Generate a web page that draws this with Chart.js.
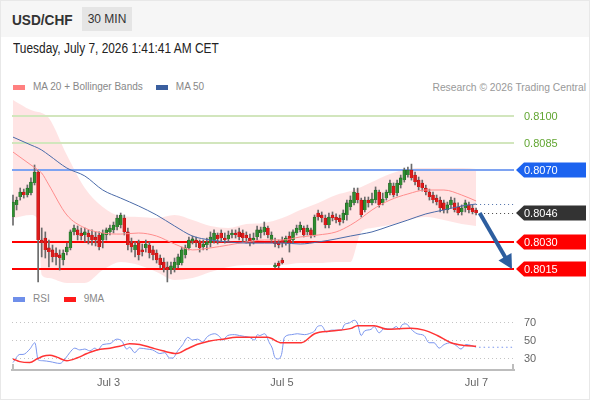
<!DOCTYPE html>
<html>
<head>
<meta charset="utf-8">
<script src="https://cdn.jsdelivr.net/npm/chart.js@4.4.1/dist/chart.umd.min.js"></script>
<style>
  body { margin: 0; font-family: "Liberation Sans", Arial, Helvetica, sans-serif; }
  #wrap { position: relative; width: 590px; height: 400px; background: #fff; overflow: hidden;
          box-sizing: border-box; border: 1px solid #e8e8e8; }
  .head { position: absolute; left: 0; top: 0; width: 590px; height: 36px; background: #f6f6f6; }
  .pair { position: absolute; left: 11px; top: 10px; font-size: 15px; font-weight: bold; color: #333;
          transform: scaleX(0.91); transform-origin: left center; }
  .tf { position: absolute; left: 81px; top: 6px; width: 50px; height: 24px; line-height: 24px;
        background: #e5e5e5; text-align: center; font-size: 12px; color: #333; }
  .date { position: absolute; left: 12px; top: 39px; font-size: 14px; color: #222;
          transform: scaleX(0.85); transform-origin: left center; white-space: nowrap; }
  .legend { position: absolute; left: 12px; font-size: 10px; color: #888; line-height: 12px; white-space: nowrap; }
  .legend span { display: inline-block; vertical-align: middle; }
  .sw { width: 12px; height: 5px; margin-right: 8px; }
  .credit { position: absolute; right: 3px; top: 81px; font-size: 10.3px; color: #999; line-height: 12px; }
  canvas { position: absolute; left: 0; }
</style>
</head>
<body>
<div id="wrap">
  <div class="head"><span class="pair">USD/CHF</span><span class="tf">30 MIN</span></div>
  <div class="date">Tuesday, July 7, 2026 1:41:41 AM CET</div>
  <div class="legend" style="top:80px"><span class="sw" style="background:#ff8080"></span><span style="margin-right:13px">MA 20 + Bollinger Bands</span><span class="sw" style="background:#3a5f9f"></span><span>MA 50</span></div>
  <div class="credit">Research © 2026 Trading Central</div>
  <canvas id="price" width="588" height="190" style="top:94px"></canvas>
  <div class="legend" style="top:292px"><span class="sw" style="background:#6f8fea"></span><span style="margin-right:14px">RSI</span><span class="sw" style="background:#ff1a1a"></span><span>9MA</span></div>
  <canvas id="rsi" width="588" height="104" style="top:287px"></canvas>
</div>
<script>
// 30 min candles, index 0 = first candle on the left
const open = [
  0.80439,0.80506,0.80550,0.80578,0.80561,0.80572,0.80628,0.80689,0.80311,0.80322,
  0.80267,0.80256,0.80239,0.80228,0.80200,0.80244,0.80267,0.80356,0.80367,0.80350,
  0.80339,0.80350,0.80339,0.80328,0.80339,0.80311,0.80339,0.80356,0.80367,0.80383,
  0.80394,0.80433,0.80356,0.80294,0.80256,0.80294,0.80256,0.80267,0.80283,0.80256,
  0.80239,0.80211,0.80189,0.80161,0.80144,0.80156,0.80172,0.80183,0.80228,0.80267,
  0.80306,0.80311,0.80294,0.80272,0.80283,0.80294,0.80311,0.80339,0.80350,0.80322,
  0.80317,0.80339,0.80350,0.80356,0.80350,0.80339,0.80322,0.80311,0.80328,0.80350,
  0.80356,0.80378,0.80311,0.80294,0.80294,0.80311,0.80300,0.80333,0.80311,0.80350,
  0.80367,0.80378,0.80356,0.80367,0.80339,0.80461,0.80450,0.80433,0.80394,0.80450,
  0.80439,0.80433,0.80422,0.80450,0.80494,0.80517,0.80572,0.80533,0.80478,0.80533,
  0.80517,0.80533,0.80578,0.80517,0.80544,0.80572,0.80611,0.80572,0.80617,0.80644,
  0.80672,0.80700,0.80672,0.80644,0.80628,0.80600,0.80578,0.80561,0.80544,0.80533,
  0.80517,0.80478,0.80506,0.80517,0.80494,0.80467,0.80489,0.80506,0.80489,0.80478
];
const close = [
  0.80522,0.80533,0.80578,0.80561,0.80600,0.80633,0.80689,0.80311,0.80294,0.80256,
  0.80244,0.80217,0.80217,0.80211,0.80239,0.80272,0.80356,0.80378,0.80339,0.80333,
  0.80356,0.80328,0.80311,0.80311,0.80272,0.80350,0.80367,0.80378,0.80394,0.80433,
  0.80450,0.80356,0.80283,0.80272,0.80283,0.80228,0.80244,0.80289,0.80239,0.80228,
  0.80200,0.80172,0.80156,0.80144,0.80167,0.80189,0.80217,0.80256,0.80267,0.80311,
  0.80317,0.80294,0.80267,0.80289,0.80300,0.80328,0.80350,0.80317,0.80322,0.80311,
  0.80339,0.80350,0.80339,0.80328,0.80322,0.80322,0.80300,0.80322,0.80367,0.80367,
  0.80383,0.80339,0.80339,0.80289,0.80283,0.80294,0.80322,0.80294,0.80356,0.80378,
  0.80394,0.80339,0.80378,0.80339,0.80439,0.80439,0.80433,0.80394,0.80439,0.80433,
  0.80422,0.80411,0.80461,0.80517,0.80533,0.80578,0.80533,0.80450,0.80533,0.80517,
  0.80539,0.80589,0.80506,0.80539,0.80578,0.80628,0.80561,0.80628,0.80656,0.80700,
  0.80700,0.80656,0.80633,0.80606,0.80600,0.80578,0.80550,0.80533,0.80522,0.80489,
  0.80478,0.80506,0.80533,0.80478,0.80461,0.80489,0.80517,0.80478,0.80467,0.80461
];
const high = [
  0.80561,0.80550,0.80600,0.80594,0.80617,0.80656,0.80728,0.80700,0.80378,0.80356,
  0.80311,0.80283,0.80267,0.80256,0.80256,0.80294,0.80367,0.80394,0.80389,0.80378,
  0.80378,0.80367,0.80367,0.80356,0.80356,0.80367,0.80378,0.80394,0.80411,0.80450,
  0.80461,0.80450,0.80378,0.80322,0.80300,0.80311,0.80289,0.80311,0.80300,0.80278,
  0.80256,0.80228,0.80211,0.80189,0.80189,0.80211,0.80233,0.80272,0.80283,0.80328,
  0.80333,0.80328,0.80311,0.80311,0.80322,0.80356,0.80367,0.80350,0.80367,0.80350,
  0.80361,0.80367,0.80367,0.80378,0.80367,0.80356,0.80344,0.80350,0.80389,0.80383,
  0.80411,0.80389,0.80356,0.80322,0.80311,0.80328,0.80333,0.80356,0.80367,0.80394,
  0.80411,0.80389,0.80394,0.80378,0.80450,0.80478,0.80467,0.80450,0.80461,0.80467,
  0.80456,0.80450,0.80478,0.80533,0.80556,0.80600,0.80600,0.80544,0.80550,0.80550,
  0.80572,0.80606,0.80589,0.80572,0.80589,0.80644,0.80628,0.80644,0.80672,0.80711,
  0.80717,0.80733,0.80689,0.80661,0.80644,0.80617,0.80594,0.80578,0.80561,0.80550,
  0.80533,0.80522,0.80550,0.80544,0.80517,0.80506,0.80533,0.80522,0.80506,0.80489
];
const low = [
  0.80394,0.80478,0.80533,0.80544,0.80550,0.80561,0.80617,0.80078,0.80217,0.80211,
  0.80161,0.80189,0.80172,0.80144,0.80172,0.80228,0.80256,0.80339,0.80311,0.80311,
  0.80300,0.80289,0.80283,0.80278,0.80256,0.80267,0.80311,0.80339,0.80350,0.80367,
  0.80378,0.80339,0.80256,0.80244,0.80217,0.80200,0.80222,0.80244,0.80211,0.80200,
  0.80183,0.80156,0.80133,0.80078,0.80122,0.80133,0.80156,0.80172,0.80211,0.80256,
  0.80289,0.80272,0.80244,0.80256,0.80256,0.80272,0.80294,0.80289,0.80300,0.80294,
  0.80300,0.80322,0.80322,0.80311,0.80300,0.80294,0.80278,0.80289,0.80311,0.80322,
  0.80339,0.80322,0.80300,0.80272,0.80267,0.80272,0.80283,0.80244,0.80294,0.80339,
  0.80356,0.80328,0.80339,0.80322,0.80328,0.80422,0.80411,0.80378,0.80378,0.80417,
  0.80406,0.80394,0.80406,0.80422,0.80478,0.80506,0.80517,0.80439,0.80467,0.80494,
  0.80506,0.80517,0.80494,0.80506,0.80533,0.80561,0.80550,0.80556,0.80600,0.80633,
  0.80661,0.80644,0.80617,0.80589,0.80583,0.80561,0.80533,0.80517,0.80506,0.80467,
  0.80461,0.80461,0.80489,0.80467,0.80450,0.80450,0.80467,0.80461,0.80456,0.80450
];

// the few weekend candles drawn under Jul 5
const wkIdx   = [73, 74, 75];
const wkOpen  = [0.80161, 0.80183, 0.80200];
const wkClose = [0.80172, 0.80167, 0.80183];
const wkHigh  = [0.80183, 0.80194, 0.80211];
const wkLow   = [0.80156, 0.80156, 0.80178];

// MA 20, Bollinger bands and MA 50, read at these candle indices
const bandIdx = [0,5,7,8,10,15,20,25,30,35,40,45,50,55,60,65,70,75,80,85,90,94,97,100,105,110,115,120,125,129];
const bandUpper = [0.81089,0.81033,0.81022,0.81017,0.80989,0.80783,0.80600,0.80494,0.80444,0.80439,
  0.80433,0.80450,0.80422,0.80389,0.80378,0.80400,0.80406,0.80433,0.80478,0.80517,
  0.80561,0.80583,0.80606,0.80633,0.80678,0.80706,0.80711,0.80711,0.80711,0.80706];
const bandLower = [0.80433,0.80450,0.80422,0.80117,0.80100,0.80072,0.80072,0.80144,0.80189,0.80172,
  0.80133,0.80089,0.80100,0.80133,0.80161,0.80172,0.80172,0.80172,0.80183,0.80183,
  0.80189,0.80189,0.80356,0.80378,0.80394,0.80422,0.80439,0.80422,0.80400,0.80389];
const ma20 = [0.80800,0.80728,0.80700,0.80683,0.80617,0.80450,0.80378,0.80350,0.80344,0.80350,
  0.80333,0.80289,0.80256,0.80267,0.80283,0.80300,0.80311,0.80311,0.80328,0.80339,
  0.80356,0.80394,0.80433,0.80478,0.80533,0.80567,0.80589,0.80589,0.80561,0.80528];
const ma50 = [0.80883,0.80839,0.80822,0.80811,0.80783,0.80711,0.80667,0.80589,0.80544,0.80500,
  0.80450,0.80389,0.80333,0.80311,0.80300,0.80294,0.80294,0.80294,0.80289,0.80300,
  0.80317,0.80333,0.80344,0.80356,0.80389,0.80422,0.80456,0.80478,0.80500,0.80511];

// key levels
const pivot = 0.8070;
const resistances = [0.8085, 0.8100];
const supports = [0.8030, 0.8015];

// RSI panel
const rsiX = [0,1.9,2.8,4.7,6.1,7.0,8.3,10.3,13.1,14.5,15.8,17.2,18.6,20.0,21.4,22.8,23.6,25.0,27.0,28.9,
  30.3,31.7,32.5,33.9,35.3,37.3,38.9,40.9,42.3,43.6,44.5,45.9,47.3,48.7,50.0,51.4,52.8,54.2,56.2,57.5,
  58.4,59.8,61.7,63.1,64.5,65.9,67.3,68.1,68.7,70.1,71.4,72.3,72.8,73.7,74.8,75.6,77.6,79.2,81.2,83.1,
  84.0,84.8,85.9,87.3,88.7,91.5,92.3,93.7,95.1,95.9,97.0,97.9,99.8,100.6,102.0,103.4,105.4,106.8,107.6,108.4,
  109.5,110.9,112.6,114.5,115.9,117.3,118.7,120.1,122.0,123.4,124.8,126.2,127.6,129.0];
const rsiVal = [26,35,35,41,48,29,28,27,25,30,37,42,40,41,39,42,40,46,47,52,
  50,41,43,37,42,41,40,36,37,31,31,39,46,54,51,52,49,55,58,55,
  51,56,57,56,55,54,51,57,56,58,48,41,33,30,35,54,57,58,57,59,
  61,66,67,60,62,62,68,70,73,70,56,61,63,66,59,64,63,66,63,68,
  69,63,58,56,48,48,42,46,48,45,41,46,45,43];
const ma9X = [0,1.9,4.7,6.7,8.3,10.3,12.2,15.0,17.8,20.6,23.4,27.0,29.7,32.5,35.3,38.1,41.7,45.6,48.4,51.2,
  54.8,58.4,62.3,65.9,70.9,74.8,80.3,84.0,88.7,94.2,95.9,100.6,104.3,110.9,114.5,118.2,122.0,125.7,129.0];
const ma9Val = [30,27,26,30,33,34,32,28,31,36,40,42,44,47,46,43,39,36,41,46,
  50,52,54,54,54,48,48,58,61,64,67,67,63,64,62,56,48,45,44];
const rsiTicks = [30, 50, 70];

const tickPositions = [26.6, 74.9, 129.1];
const tickLabels = ['Jul 3', 'Jul 5', 'Jul 7'];

const X_MIN = -0.28, X_MAX = 139.56;
const FONT = '"Liberation Sans", Arial, sans-serif';
Chart.defaults.font.family = FONT;

const pts = (xs, ys) => xs.map((x, k) => ({ x: x, y: ys[k] }));
const idx = open.map((_, i) => i);
const last = idx.length - 1;
const UP = '#2f8d31', DOWN = '#e01b1b', UP_EDGE = '#1d5a1f', DOWN_EDGE = '#a81010';
const isUp = (o, c) => c >= o;

const bodies = idx.map(i => ({ x: i, y: [open[i], close[i]] }));
const wicks = idx.map(i => ({ x: i, y: [low[i], high[i]] }));
const wkBodies = wkIdx.map((x, k) => ({ x: x, y: [wkOpen[k], wkClose[k]] }));
const wkWicks = wkIdx.map((x, k) => ({ x: x, y: [wkLow[k], wkHigh[k]] }));

function hline(ctx, a, py, color, width, dash) {
  ctx.save();
  ctx.strokeStyle = color;
  ctx.lineWidth = width;
  ctx.setLineDash(dash || []);
  ctx.beginPath();
  ctx.moveTo(a.left, py);
  ctx.lineTo(a.right, py);
  ctx.stroke();
  ctx.restore();
}

function tag(ctx, x, y, text, fill) {
  ctx.fillStyle = fill;
  ctx.beginPath();
  ctx.moveTo(x, y);
  ctx.lineTo(x + 8, y - 7.5);
  ctx.lineTo(x + 70, y - 7.5);
  ctx.lineTo(x + 70, y + 7.5);
  ctx.lineTo(x + 8, y + 7.5);
  ctx.closePath();
  ctx.fill();
  ctx.fillStyle = '#fff';
  ctx.fillText(text, x + 8, y + 0.5);
}

function arrow(ctx, x0, y0, x1, y1) {
  const ang = Math.atan2(y1 - y0, x1 - x0), head = 14, half = 7.5;
  const bx = x1 - head * Math.cos(ang), by = y1 - head * Math.sin(ang);
  ctx.save();
  ctx.strokeStyle = ctx.fillStyle = '#2d5e9f';
  ctx.lineWidth = 4;
  ctx.beginPath();
  ctx.moveTo(x0, y0);
  ctx.lineTo(bx + 2 * Math.cos(ang), by + 2 * Math.sin(ang));
  ctx.stroke();
  ctx.beginPath();
  ctx.moveTo(x1, y1);
  ctx.lineTo(bx + half * Math.sin(ang), by - half * Math.cos(ang));
  ctx.lineTo(bx - half * Math.sin(ang), by + half * Math.cos(ang));
  ctx.closePath();
  ctx.fill();
  ctx.restore();
}

const levelsPlugin = {
  id: 'levels',
  beforeDatasetsDraw(chart) {
    const { ctx, chartArea: a, scales: { y } } = chart;
    resistances.forEach(v => hline(ctx, a, Math.round(y.getPixelForValue(v)), '#d2e6bd', 2));
    hline(ctx, a, Math.round(y.getPixelForValue(pivot)), '#7ea3f1', 2);
    supports.forEach(v => hline(ctx, a, Math.round(y.getPixelForValue(v)), '#ff0000', 2));
  },
  afterDatasetsDraw(chart) {
    const { ctx, chartArea: a, scales: { x, y } } = chart;
    const lx = x.getPixelForValue(last);
    ctx.save();
    ctx.lineWidth = 1;
    ctx.setLineDash([1, 3]);
    ctx.strokeStyle = '#4c6ea9';
    let py = Math.round(y.getPixelForValue(ma50[ma50.length - 1])) + 0.5;
    ctx.beginPath(); ctx.moveTo(lx, py); ctx.lineTo(a.right, py); ctx.stroke();
    ctx.strokeStyle = '#444';
    py = Math.round(y.getPixelForValue(close[last])) + 0.5;
    ctx.beginPath(); ctx.moveTo(lx + 4, py); ctx.lineTo(a.right, py); ctx.stroke();
    ctx.restore();
    arrow(ctx, x.getPixelForValue(last + 1), y.getPixelForValue(close[last]),
          a.right - 2, y.getPixelForValue(supports[1]));
  },
  afterDraw(chart) {
    const { ctx, chartArea: a, scales: { y } } = chart;
    const tx = a.right + 2;
    ctx.save();
    ctx.font = '11px ' + FONT;
    ctx.textBaseline = 'middle';
    ctx.fillStyle = '#62a632';
    resistances.forEach(v => ctx.fillText(v.toFixed(4), tx + 8, y.getPixelForValue(v) + 0.5));
    tag(ctx, tx, y.getPixelForValue(pivot), pivot.toFixed(4), '#1c63ef');
    tag(ctx, tx, y.getPixelForValue(close[last]), close[last].toFixed(4), '#333333');
    supports.forEach(v => tag(ctx, tx, y.getPixelForValue(v), v.toFixed(4), '#ff0000'));
    ctx.restore();
  }
};

const lineStyle = { type: 'line', pointRadius: 0, cubicInterpolationMode: 'monotone', fill: false };

new Chart(document.getElementById('price'), {
  type: 'bar',
  data: {
    datasets: [
      { ...lineStyle, data: pts(bandIdx, ma50), borderColor: '#4a6aa8', borderWidth: 1, order: 1 },
      { ...lineStyle, data: pts(bandIdx, ma20), borderColor: '#ff8c8c', borderWidth: 1, order: 2 },
      { type: 'bar', data: bodies,
        backgroundColor: idx.map(i => isUp(open[i], close[i]) ? UP : DOWN),
        borderColor: idx.map(i => isUp(open[i], close[i]) ? UP_EDGE : DOWN_EDGE),
        borderWidth: 0.6, barThickness: 3, grouped: false, order: 3 },
      { type: 'bar', data: wicks, backgroundColor: '#6a6a6a', barThickness: 1, grouped: false, order: 4 },
      { type: 'bar', data: wkBodies,
        backgroundColor: wkIdx.map((_, k) => isUp(wkOpen[k], wkClose[k]) ? UP : DOWN),
        borderColor: wkIdx.map((_, k) => isUp(wkOpen[k], wkClose[k]) ? UP_EDGE : DOWN_EDGE),
        borderWidth: 0.6, barThickness: 3, grouped: false, order: 3 },
      { type: 'bar', data: wkWicks, backgroundColor: '#6a6a6a', barThickness: 1, grouped: false, order: 4 },
      { ...lineStyle, data: pts(bandIdx, bandUpper), fill: '+1', backgroundColor: 'rgba(255,120,120,0.2)',
        borderColor: 'transparent', borderWidth: 0, order: 10 },
      { ...lineStyle, data: pts(bandIdx, bandLower), borderColor: 'transparent', borderWidth: 0, order: 11 }
    ]
  },
  options: {
    responsive: false,
    animation: false,
    events: [],
    layout: { padding: { left: 11, right: 75, top: 0, bottom: 0 } },
    plugins: {
      legend: { display: false },
      tooltip: { enabled: false },
      filler: { drawTime: 'beforeDatasetsDraw' }
    },
    scales: {
      x: { type: 'linear', min: X_MIN, max: X_MAX, offset: false, display: false },
      y: { type: 'linear', min: 0.80061, max: 0.81117, display: false }
    }
  },
  plugins: [levelsPlugin]
});

const rsiPlugin = {
  id: 'rsiExtras',
  afterDatasetsDraw(chart) {
    const { ctx, chartArea: a, scales: { x, y } } = chart;
    ctx.save();
    ctx.strokeStyle = '#7b96ee';
    ctx.lineWidth = 1.2;
    ctx.setLineDash([1.5, 3]);
    const py = y.getPixelForValue(rsiVal[rsiVal.length - 1]);
    ctx.beginPath();
    ctx.moveTo(x.getPixelForValue(rsiX[rsiX.length - 1]) + 3, py);
    ctx.lineTo(a.right, py);
    ctx.stroke();
    ctx.restore();
  },
  afterDraw(chart) {
    const { ctx, chartArea: a } = chart;
    ctx.save();
    ctx.strokeStyle = '#bdbdbd';
    ctx.lineWidth = 2;
    [a.left + 1, a.right - 1].forEach(px => {
      ctx.beginPath();
      ctx.moveTo(px, a.bottom + 1);
      ctx.lineTo(px, a.bottom - 6);
      ctx.stroke();
    });
    ctx.restore();
  }
};

new Chart(document.getElementById('rsi'), {
  type: 'line',
  data: {
    datasets: [
      { ...lineStyle, data: pts(ma9X, ma9Val), borderColor: '#ff3434', borderWidth: 1.5 },
      { ...lineStyle, data: pts(rsiX, rsiVal), borderColor: '#7b96ee', borderWidth: 1 }
    ]
  },
  options: {
    responsive: false,
    animation: false,
    events: [],
    layout: { padding: { left: 11, right: 0, top: 0, bottom: 0 } },
    plugins: { legend: { display: false }, tooltip: { enabled: false } },
    scales: {
      x: {
        type: 'linear', min: X_MIN, max: X_MAX, offset: false,
        grid: { display: false, drawTicks: false },
        border: { display: true, color: '#bdbdbd', width: 2 },
        afterBuildTicks: s => { s.ticks = tickPositions.map(v => ({ value: v })); },
        afterFit: s => { s.height = 22; },
        ticks: { autoSkip: false, maxRotation: 0, padding: 6, color: '#666', font: { size: 11 },
                 callback: (v, i) => tickLabels[i] }
      },
      y: {
        position: 'right', min: 17.7, max: 90.4,
        afterBuildTicks: s => { s.ticks = rsiTicks.map(v => ({ value: v })); },
        afterFit: s => { s.width = 75; },
        grid: { color: '#c4c4c4', drawTicks: false },
        border: { display: false, dash: [1, 3] },
        ticks: { padding: 10, color: '#666', font: { size: 11 } }
      }
    }
  },
  plugins: [rsiPlugin]
});
</script>
</body>
</html>
